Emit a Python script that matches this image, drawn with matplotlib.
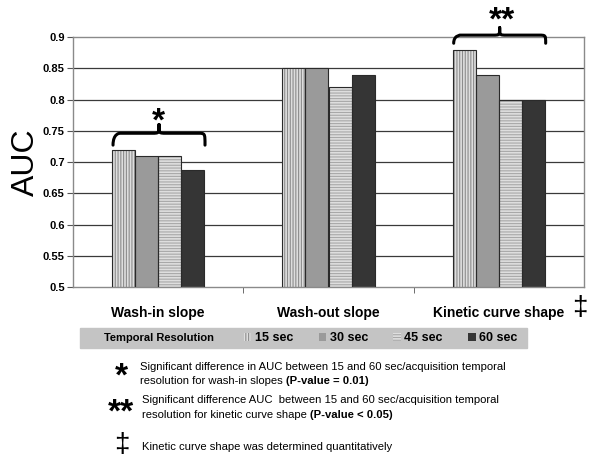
import matplotlib
matplotlib.use("Agg")
import matplotlib.pyplot as plt
from matplotlib.path import Path
from matplotlib.patches import PathPatch, Rectangle
import numpy as np

plt.rcParams['font.family'] = ['Liberation Sans', 'DejaVu Sans']
plt.rcParams['hatch.linewidth'] = 0.8

# Dados
categories = ["Wash-in slope", "Wash-out slope", "Kinetic curve shape"]
resolutions = ["15 sec", "30 sec", "45 sec", "60 sec"]
auc_15 = [0.72, 0.85, 0.88]
auc_30 = [0.71, 0.85, 0.84]
auc_45 = [0.71, 0.82, 0.80]
auc_60 = [0.688, 0.84, 0.80]
yticks = [0.5, 0.55, 0.6, 0.65, 0.7, 0.75, 0.8, 0.85, 0.9]

series = [auc_15, auc_30, auc_45, auc_60]
faces = ['#dedede', '#9a9a9a', '#dedede', '#353535']
hatch_cols = ['#8c8c8c', '#9a9a9a', '#a8a8a8', '#353535']
hatches = ['||||||', None, '------', None]

fig = plt.figure(figsize=(6.01, 4.70), dpi=100)
ax = fig.add_axes([73/601, 1-287/470, 511/601, 250/470])

x = np.arange(len(categories))
w = 0.136
handles = []
for i, vals in enumerate(series):
    pos = x + (i - 1.5) * w
    b = ax.bar(pos, vals, w, bottom=0, color=faces[i], edgecolor=hatch_cols[i],
               hatch=hatches[i], linewidth=0, zorder=2, label=resolutions[i])
    ax.bar(pos, vals, w, fill=False, edgecolor='#2a2a2a', linewidth=0.8, zorder=3)
    handles.append(b)

ax.set_xlim(-0.5, 2.5)
ax.set_ylim(0.5, 0.9)
ax.set_yticks(yticks)
ax.set_yticklabels([f'{v:g}' for v in yticks], fontsize=8, fontweight='bold')
for v in yticks[1:-1]:
    ax.axhline(v, color='#3a3a3a', linewidth=0.9, zorder=1)
for s in ax.spines.values():
    s.set_color('#8a8a8a')
    s.set_linewidth(1)

ax.set_xticks(x)
ax.set_xticklabels(categories, fontsize=10, fontweight='bold')
ax.set_xticks([0.5, 1.5], minor=True)
ax.tick_params(axis='x', which='major', length=0, pad=14)
ax.tick_params(axis='x', which='minor', length=4, color='#555555')
ax.tick_params(axis='y', length=4, color='#555555', pad=2)

ax.set_ylabel("AUC", fontsize=23)
ax.yaxis.set_label_coords(-0.062, 0.5)


def brace(ax, x0, x1, yb, yf, yp):
    xm = (x0 + x1) / 2
    d = 0.04
    verts = [(x0, yb), (x0, yf), (x0 + d, yf), (x0 + d, yf),
             (xm - d, yf),
             (xm, yf), (xm, yf), (xm, yp),
             (xm, yf), (xm, yf), (xm + d, yf),
             (x1 - d, yf),
             (x1, yf), (x1, yf), (x1, yb)]
    codes = [Path.MOVETO, Path.CURVE4, Path.CURVE4, Path.CURVE4,
             Path.LINETO,
             Path.CURVE4, Path.CURVE4, Path.CURVE4,
             Path.CURVE4, Path.CURVE4, Path.CURVE4,
             Path.LINETO,
             Path.CURVE4, Path.CURVE4, Path.CURVE4]
    ax.add_patch(PathPatch(Path(verts, codes), fill=False, lw=2.2,
                           edgecolor='black', clip_on=False, zorder=5,
                           capstyle='round', joinstyle='round'))


brace(ax, -0.265, 0.275, 0.727, 0.746, 0.76)
ax.text(0, 0.764, "*", fontsize=24, ha='center', va='center', fontweight='bold')
brace(ax, 1.735, 2.275, 0.89, 0.903, 0.915)
ax.text(2.02, 0.925, "**", fontsize=24, ha='center', va='center', fontweight='bold')

fig.text(580/601, 1-308/470, "\u2021", fontsize=20, ha='center', va='center')

# Legenda
fig.patches.append(Rectangle((80/601, 1-348/470), 447/601, 20/470,
                             transform=fig.transFigure, color='#c4c4c4', zorder=0))
fig.text(104/601, 1-338/470, "Temporal Resolution", fontsize=8, fontweight='bold',
         va='center', ha='left')
fig.legend(handles=handles, labels=resolutions, loc='center left',
           bbox_to_anchor=(244/601, 1-338/470), ncol=4, frameon=False,
           prop={'weight': 'bold', 'size': 9}, handlelength=0.6, handleheight=0.6,
           handletextpad=0.3, columnspacing=2.0, borderpad=0, borderaxespad=0)

# Notas
def note(xp, yp, parts):
    t = fig.text(xp/601, 1-yp/470, parts[0], fontsize=8.1, va='center', ha='left')
    if len(parts) > 1:
        ax.annotate(parts[1], xy=(1, 0), xycoords=t, va='bottom', ha='left',
                    fontsize=8.1, fontweight='bold')

fig.text(121/601, 1-377/470, "*", fontsize=24, ha='center', va='center', fontweight='bold')
note(140, 367, ["Significant difference in AUC between 15 and 60 sec/acquisition temporal"])
note(140, 381, ["resolution for wash-in slopes ", "(P-value = 0.01)"])

fig.text(121/601, 1-413/470, "**", fontsize=24, ha='center', va='center', fontweight='bold')
note(142, 400, ["Significant difference AUC  between 15 and 60 sec/acquisition temporal"])
note(142, 415, ["resolution for kinetic curve shape ", "(P-value < 0.05)"])

fig.text(122/601, 1-445/470, "\u2021", fontsize=20, ha='center', va='center')
note(142, 447, ["Kinetic curve shape was determined quantitatively"])

fig.savefig("out.png", dpi=100)
